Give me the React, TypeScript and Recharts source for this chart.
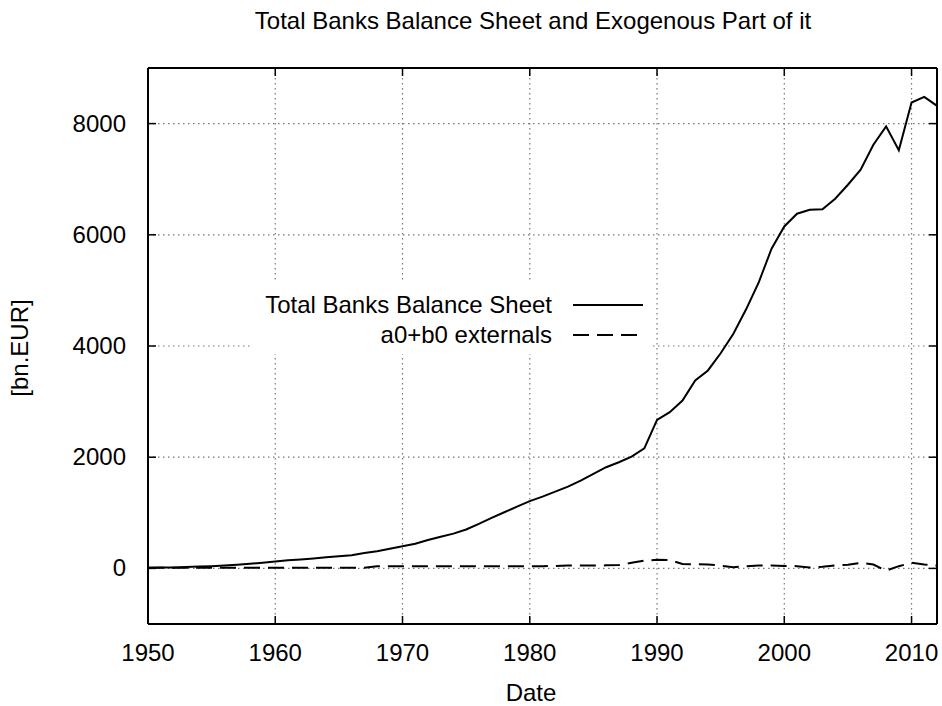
import React from 'react';
import { LineChart, Line, XAxis, YAxis, CartesianGrid, Legend, Label } from 'recharts';

const years = [
  1950, 1951, 1952, 1953, 1954, 1955, 1956, 1957, 1958, 1959,
  1960, 1961, 1962, 1963, 1964, 1965, 1966, 1967, 1968, 1969,
  1970, 1971, 1972, 1973, 1974, 1975, 1976, 1977, 1978, 1979,
  1980, 1981, 1982, 1983, 1984, 1985, 1986, 1987, 1988, 1989,
  1990, 1991, 1992, 1993, 1994, 1995, 1996, 1997, 1998, 1999,
  2000, 2001, 2002, 2003, 2004, 2005, 2006, 2007, 2008, 2009,
  2010, 2011, 2012,
];

const totalBalance = [
  10, 14, 18, 24, 32, 40, 52, 66, 82, 102,
  125, 145, 162, 180, 200, 218, 235, 275, 310, 355,
  400, 445, 510, 570, 625, 700, 800, 910, 1010, 1110,
  1210, 1290, 1380, 1470, 1580, 1700, 1820, 1910, 2010, 2160,
  2670, 2810, 3020, 3380, 3560, 3870, 4220, 4660, 5150, 5750,
  6150, 6380, 6450, 6460, 6650, 6900, 7170, 7620, 7950, 7520,
  8380, 8480, 8320,
];

const externals = [
  10, 10, 10, 10, 10, 10, 10, 10, 10, 10,
  10, 10, 10, 10, 10, 10, 10, 10, 40, 40,
  40, 40, 40, 40, 40, 40, 40, 40, 40, 40,
  40, 40, 45, 50, 50, 50, 55, 60, 100, 140,
  155, 150, 80, 75, 70, 50, 20, 40, 50, 50,
  45, 40, 15, 30, 55, 65, 100, 70, -40, 40,
  100, 70, 50,
];

const xTicks = [1950, 1960, 1970, 1980, 1990, 2000, 2010];
const yTicks = [0, 2000, 4000, 6000, 8000];
const seriesNames = ['Total Banks Balance Sheet', 'a0+b0 externals'];
const seriesDash = ['', '16 8'];
const titleText = 'Total Banks Balance Sheet and Exogenous Part of it';
const xLabelText = 'Date';
const yLabelText = '[bn.EUR]';

const data = years.map((year, i) => ({
  year,
  total: totalBalance[i],
  ext: externals[i],
}));

const FONT = '"Liberation Sans", Arial, Helvetica, sans-serif';
const TICK_LEN = 8;

const BottomTick = (props: any) => {
  const { x, y, payload } = props;
  return (
    <g>
      <line x1={x} x2={x} y1={y} y2={y - TICK_LEN} stroke="#000" strokeWidth={1.5} />
      <text x={x} y={y + 37} textAnchor="middle" fontSize={24} fontFamily={FONT} fill="#000">
        {payload.value}
      </text>
    </g>
  );
};

const TopTick = (props: any) => {
  const { x, y } = props;
  return <line x1={x} x2={x} y1={y} y2={y + TICK_LEN} stroke="#000" strokeWidth={1.5} />;
};

const LeftTick = (props: any) => {
  const { x, y, payload } = props;
  return (
    <g>
      <line x1={x} x2={x + TICK_LEN} y1={y} y2={y} stroke="#000" strokeWidth={1.5} />
      <text x={x - 22} y={y + 8} textAnchor="end" fontSize={24} fontFamily={FONT} fill="#000">
        {payload.value}
      </text>
    </g>
  );
};

const RightTick = (props: any) => {
  const { x, y } = props;
  return <line x1={x} x2={x - TICK_LEN} y1={y} y2={y} stroke="#000" strokeWidth={1.5} />;
};

const LegendBox = () => (
  <svg width={400} height={72} style={{ display: 'block' }}>
    <rect x={0} y={0} width={400} height={72} fill="#fff" />
    {seriesNames.map((name, i) => (
      <g key={name}>
        <text
          x={302}
          y={31 + i * 30}
          textAnchor="end"
          fontSize={24}
          fontFamily={FONT}
          fill="#000"
        >
          {name}
        </text>
        <line
          x1={323}
          x2={393}
          y1={23 + i * 30}
          y2={23 + i * 30}
          stroke="#000"
          strokeWidth={2}
          strokeDasharray={seriesDash[i] || undefined}
        />
      </g>
    ))}
  </svg>
);

export default function App() {
  return (
    <div style={{ position: 'absolute', left: 0, top: 0, background: '#fff' }}>
      <LineChart
        width={942}
        height={706}
        data={data}
        margin={{ top: 66, right: 3, bottom: 52, left: 88 }}
      >
        <CartesianGrid stroke="#777" strokeDasharray="1.5 3.5" strokeWidth={1.2} />
        <XAxis
          dataKey="year"
          type="number"
          domain={[1950, 2012]}
          ticks={xTicks}
          allowDataOverflow
          height={30}
          tickSize={0}
          tickMargin={0}
          tickLine={false}
          tick={<BottomTick />}
          axisLine={{ stroke: '#000', strokeWidth: 2 }}
          interval={0}
        >
          <Label
            content={() => (
              <text x={531} y={701} textAnchor="middle" fontSize={24} fontFamily={FONT} fill="#000">
                {xLabelText}
              </text>
            )}
          />
        </XAxis>
        <XAxis
          xAxisId="top"
          dataKey="year"
          type="number"
          orientation="top"
          domain={[1950, 2012]}
          ticks={xTicks}
          allowDataOverflow
          height={2}
          tickSize={0}
          tickMargin={0}
          tickLine={false}
          tick={<TopTick />}
          axisLine={{ stroke: '#000', strokeWidth: 2 }}
          interval={0}
        >
          <Label
            content={() => (
              <text x={533} y={29} textAnchor="middle" fontSize={24} fontFamily={FONT} fill="#000">
                {titleText}
              </text>
            )}
          />
        </XAxis>
        <YAxis
          type="number"
          domain={[-1000, 9000]}
          ticks={yTicks}
          allowDataOverflow
          width={60}
          tickSize={0}
          tickMargin={0}
          tickLine={false}
          tick={<LeftTick />}
          axisLine={{ stroke: '#000', strokeWidth: 2 }}
          interval={0}
        >
          <Label
            content={() => (
              <text
                x={28}
                y={348}
                textAnchor="middle"
                fontSize={24}
                fontFamily={FONT}
                fill="#000"
                transform="rotate(-90, 28, 348)"
              >
                {yLabelText}
              </text>
            )}
          />
        </YAxis>
        <YAxis
          yAxisId="right"
          orientation="right"
          type="number"
          domain={[-1000, 9000]}
          ticks={yTicks}
          allowDataOverflow
          width={2}
          tickSize={0}
          tickMargin={0}
          tickLine={false}
          tick={<RightTick />}
          axisLine={{ stroke: '#000', strokeWidth: 2 }}
          interval={0}
        />
        <Legend
          layout="vertical"
          align="center"
          verticalAlign="middle"
          wrapperStyle={{ position: 'absolute', left: 250, top: 282, width: 400, height: 72 }}
          content={() => <LegendBox />}
        />
        <Line
          type="linear"
          dataKey="total"
          name={seriesNames[0]}
          stroke="#000"
          strokeWidth={2}
          dot={false}
          activeDot={false}
          isAnimationActive={false}
        />
        <Line
          type="linear"
          dataKey="ext"
          name={seriesNames[1]}
          stroke="#000"
          strokeWidth={2}
          strokeDasharray={seriesDash[1]}
          dot={false}
          activeDot={false}
          isAnimationActive={false}
        />
      </LineChart>
    </div>
  );
}
